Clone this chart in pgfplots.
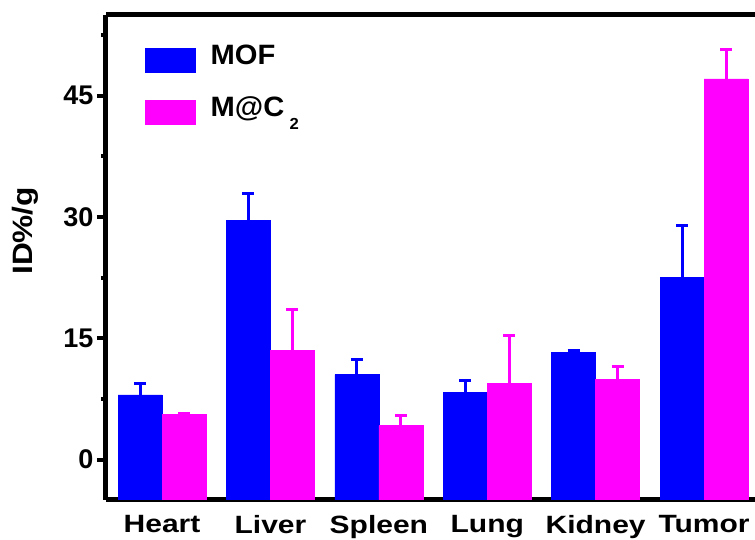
\documentclass[border=0pt]{standalone}
\usepackage{pgfplots}
\pgfplotsset{compat=1.18}
\usepackage{pgfplotstable}
\usepackage{fontspec}
\setmainfont{Liberation Sans}
\newfontfamily\xlabfont{Liberation Sans}[FakeStretch=1.2]
\newfontfamily\ylabfont{Liberation Sans}[FakeStretch=1.13]
\newfontfamily\legfont{Liberation Sans}[FakeStretch=1.04]
\definecolor{mofblue}{RGB}{0,0,255}
\definecolor{mcmag}{RGB}{255,0,255}

% organ uptake: mean and upper error
\pgfplotstableread{
x mof mofe mc mce
0 8.0 1.4 5.55 0.15
1 29.6 3.3 13.5 5.1
2 10.5 1.9 4.2 1.2
3 8.3 1.5 9.4 6.0
4 13.3 0.2 9.9 1.6
5 22.5 6.5 47.1 3.6
}\datatable

\begin{document}
\begin{tikzpicture}
\useasboundingbox (-106pt,-40pt) rectangle (649pt,500pt);
\begin{axis}[
  at={(0,0)}, anchor=south west,
  scale only axis, width=649pt, height=485pt,
  xmin=-0.517, xmax=5.47, ymin=-5, ymax=55,
  % bars rise from the bottom of the frame (y = -5)
  y coord trafo/.code={\pgfmathparse{#1+5}},
  y coord inv trafo/.code={\pgfmathparse{#1-5}},
  ybar, bar width=0.406,
  axis x line=box, axis y line=left,
  axis line style={line width=5pt, -},
  xtick={0,1,2,3,4,5},
  xticklabels={Heart,Liver,Spleen,Lung,Kidney,Tumor},
  xtick style={draw=none},
  xticklabel style={font=\fontsize{25}{28}\selectfont\xlabfont\bfseries, yshift=-3pt},
  ytick={0,15,30,45},
  minor ytick={7.5,22.5,37.5,52.5},
  ytick pos=left,
  tick align=outside,
  major tick length=9pt, minor tick length=5pt,
  ytick style={line width=4pt, black},
  minor tick style={line width=4pt, black},
  /pgf/number format/assume math mode=true,
  yticklabel style={font=\fontsize{27}{28}\selectfont\bfseries},
  ylabel={ID\%/g},
  ylabel style={at={(axis description cs:-0.125,0.555)}, anchor=center,
    font=\fontsize{28}{30}\selectfont\ylabfont\bfseries},
  legend style={draw=none, fill=none, at={(axis description cs:0.06,0.939)},
    anchor=north west, inner sep=0pt, row sep=24pt, column sep=15pt,
    font=\fontsize{28}{30}\selectfont\legfont\bfseries,
    nodes={inner sep=0pt}},
  legend image code/.code={\fill[#1,/tikz/.cd] (0pt,-17pt) rectangle (50pt,7pt);},
  legend cell align=left,
]
\addplot[fill=mofblue, draw=mofblue, line width=0.5pt, bar shift=-0.203,
  error bars/.cd, y dir=plus, y explicit,
  error bar style={line width=3pt, mofblue},
  error mark options={rotate=90, mark size=6pt, line width=3pt, mofblue}]
  table[x=x, y=mof, y error=mofe] {\datatable};
\addplot[fill=mcmag, draw=mcmag, line width=0.5pt, bar shift=0.203,
  error bars/.cd, y dir=plus, y explicit,
  error bar style={line width=3pt, mcmag},
  error mark options={rotate=90, mark size=6pt, line width=3pt, mcmag}]
  table[x=x, y=mc, y error=mce] {\datatable};
\legend{MOF, M@C\raisebox{-0.45em}{\fontsize{16}{16}\selectfont\,\,2}}
\end{axis}
\end{tikzpicture}
\end{document}
